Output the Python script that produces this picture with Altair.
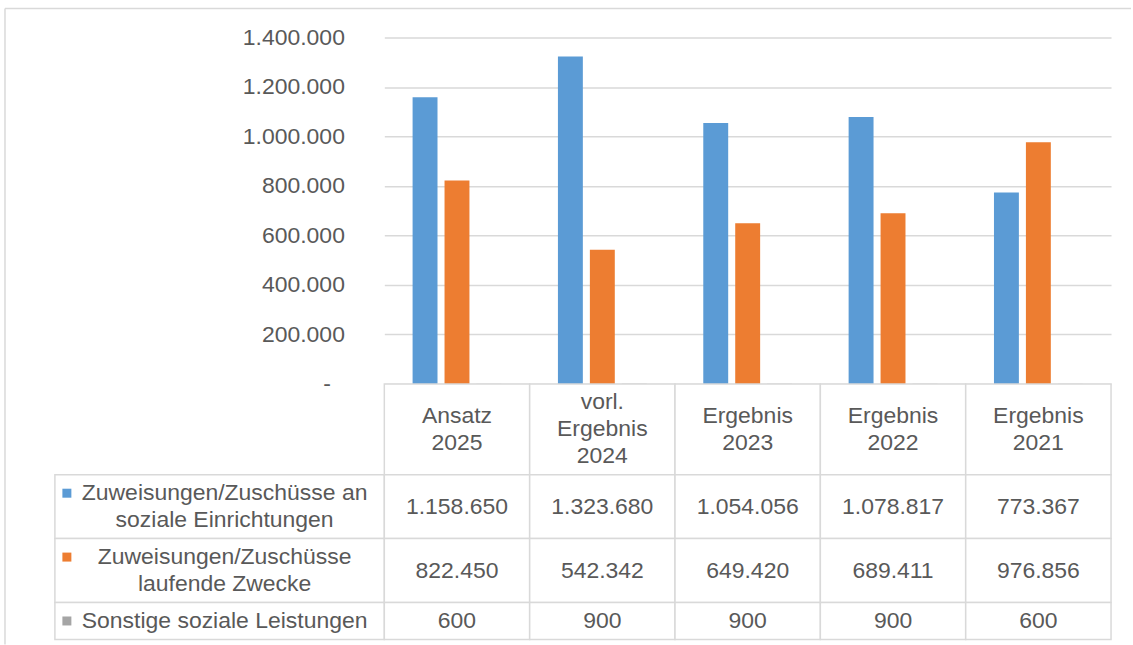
import altair as alt
import pandas as pd

# ---------------- data ----------------
categories = ["Ansatz 2025", "vorl. Ergebnis 2024", "Ergebnis 2023", "Ergebnis 2022", "Ergebnis 2021"]
series = [
    "Zuweisungen/Zuschüsse an soziale Einrichtungen",
    "Zuweisungen/Zuschüsse laufende Zwecke",
    "Sonstige soziale Leistungen",
]
series_labels = [
    "Zuweisungen/Zuschüsse an\nsoziale Einrichtungen",
    "Zuweisungen/Zuschüsse\nlaufende Zwecke",
    "Sonstige soziale Leistungen",
]
values_einrichtungen = [1158650, 1323680, 1054056, 1078817, 773367]
values_zwecke = [822450, 542342, 649420, 689411, 976856]
values_sonstige = [600, 900, 900, 900, 600]
series_colors = ["#5B9BD5", "#ED7D31", "#A5A5A5"]
y_ticks = [0, 200000, 400000, 600000, 800000, 1000000, 1200000, 1400000]

FONT = "Liberation Sans"
TXT = "#595959"
GRID = "#D9D9D9"
FS = 23
LINE_H = 27
CELL_PAD = 10

def de_fmt(v):
    return f"{v:,}".replace(",", ".")

all_values = [values_einrichtungen, values_zwecke, values_sonstige]
rows = []
for s, vals in zip(series, all_values):
    for c, v in zip(categories, vals):
        rows.append({"category": c, "series": s, "value": v, "label": de_fmt(v)})
df = pd.DataFrame(rows)

# ---------------- table layout (row heights from line counts) ----------------
header_lines = max(len(c.split(" ")) for c in categories)
row_lines = [header_lines] + [lbl.count("\n") + 1 for lbl in series_labels]
row_h = [LINE_H * n + CELL_PAD for n in row_lines]
tops = [sum(row_h[:i]) for i in range(len(row_h))]
TABLE_H = sum(row_h)

def first_line(top, h, text):
    n = text.count("\n") + 1
    return top + h / 2 - (n - 1) * LINE_H / 2

cells = []
for c in categories:
    t = c.replace(" ", "\n")
    cells.append({"category": c, "top": tops[0], "bottom": tops[0] + row_h[0],
                  "ty": first_line(tops[0], row_h[0], t), "text": t})
for i, s in enumerate(series):
    sub = df[df.series == s]
    for c in categories:
        lab = sub[sub.category == c]["label"].iloc[0]
        cells.append({"category": c, "top": tops[i + 1], "bottom": tops[i + 1] + row_h[i + 1],
                      "ty": first_line(tops[i + 1], row_h[i + 1], lab), "text": lab})
cells_df = pd.DataFrame(cells)

lab_rows = []
for i, (s, lbl) in enumerate(zip(series, series_labels)):
    lab_rows.append({"col": "label", "series": s, "text": lbl,
                     "top": tops[i + 1], "bottom": tops[i + 1] + row_h[i + 1],
                     "ty": first_line(tops[i + 1], row_h[i + 1], lbl)})
lab_df = pd.DataFrame(lab_rows)

PLOT_W = 728
PLOT_H = 347
LABEL_W = 330

x_scale = alt.Scale(domain=categories, paddingInner=0, paddingOuter=0)
color_scale = alt.Scale(domain=series, range=series_colors)
ty_scale = alt.Scale(domain=[0, TABLE_H], reverse=True, nice=False, zero=False)

# ---------------- bar chart ----------------
label_expr = ("datum.value == 0 ? '-' : "
              "replace(format(datum.value, ',.0f'), regexp(',', 'g'), '.')")
bars = alt.Chart(df).mark_bar().encode(
    x=alt.X("category:N", scale=x_scale, axis=None, sort=categories),
    xOffset=alt.XOffset("series:N", sort=series,
                        scale=alt.Scale(domain=series, paddingInner=0.22, paddingOuter=0.885)),
    y=alt.Y("value:Q", scale=alt.Scale(domain=[0, 1400000], nice=False),
            axis=alt.Axis(values=y_ticks, labelExpr=label_expr, title=None,
                          labelFontSize=FS, labelColor=TXT, labelFont=FONT,
                          labelPadding={"condition": {"test": "datum.value == 0", "value": 54},
                                        "value": 40},
                          ticks=False, domain=False,
                          gridColor=GRID, gridWidth=1.5)),
    color=alt.Color("series:N", scale=color_scale, legend=None),
).properties(width=PLOT_W, height=PLOT_H)

# top-left cell: only the light outer frame of the chart area
frame_df = pd.DataFrame({"a": [0]})
frame_left = alt.Chart(frame_df).mark_rule(color=GRID, strokeWidth=1.5).encode(
    x=alt.value(-50), y=alt.value(-29), y2=alt.value(608)
)
frame_top = alt.Chart(frame_df).mark_rule(color=GRID, strokeWidth=1.5).encode(
    x=alt.value(-50), x2=alt.value(1078), y=alt.value(-29)
)
spacer = alt.layer(frame_left, frame_top).properties(width=LABEL_W, height=PLOT_H)

# ---------------- data table ----------------
t_base = alt.Chart(cells_df)
t_rect = t_base.mark_rect(fill="white", stroke=GRID, strokeWidth=1.5).encode(
    x=alt.X("category:N", scale=x_scale, axis=None, sort=categories),
    y=alt.Y("top:Q", scale=ty_scale, axis=None),
    y2="bottom:Q",
)
t_text = t_base.mark_text(lineBreak="\n", lineHeight=LINE_H, fontSize=FS, font=FONT,
                          color=TXT, align="center", baseline="middle").encode(
    x=alt.X("category:N", scale=x_scale, axis=None, sort=categories),
    y=alt.Y("ty:Q", scale=ty_scale, axis=None),
    text="text:N",
)
table = alt.layer(t_rect, t_text).properties(width=PLOT_W, height=TABLE_H)

l_base = alt.Chart(lab_df)
lx_scale = alt.Scale(domain=["label"], paddingInner=0, paddingOuter=0)
l_rect = l_base.mark_rect(fill="white", stroke=GRID, strokeWidth=1.5).encode(
    x=alt.X("col:N", scale=lx_scale, axis=None),
    y=alt.Y("top:Q", scale=ty_scale, axis=None),
    y2="bottom:Q",
)
l_text = l_base.mark_text(lineBreak="\n", lineHeight=LINE_H, fontSize=FS, font=FONT,
                          color=TXT, align="center", baseline="middle", dx=5).encode(
    x=alt.X("col:N", scale=lx_scale, axis=None),
    y=alt.Y("ty:Q", scale=ty_scale, axis=None),
    text="text:N",
)
l_key = l_base.mark_square(size=81, opacity=1, xOffset=12).encode(
    x=alt.X("col:N", scale=lx_scale, axis=None, bandPosition=0),
    y=alt.Y("ty:Q", scale=ty_scale, axis=None),
    color=alt.Color("series:N", scale=color_scale, legend=None),
)
labels = alt.layer(l_rect, l_text, l_key).properties(width=LABEL_W, height=TABLE_H)

chart = alt.concat(spacer, bars, labels, table, columns=2, spacing=0, bounds="flush").properties(
    padding={"left": 3, "top": 6, "right": 0, "bottom": 0},
    background="white",
).configure_view(stroke="transparent").resolve_scale(color="shared")

chart.save("out.html", embed_options={"renderer": "svg", "actions": False})
